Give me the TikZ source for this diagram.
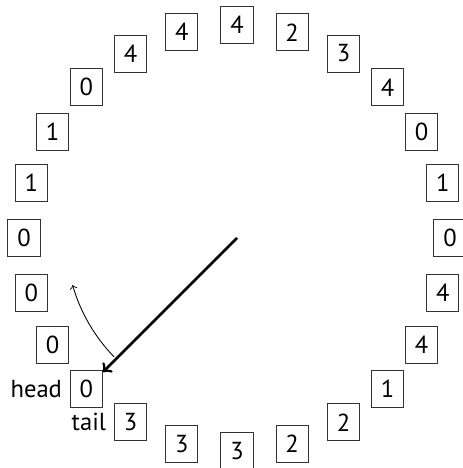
\documentclass[tikz,border=0pt]{standalone}
\usepackage{fontspec}
\setmainfont{PT Sans}
\begin{document}
\begin{tikzpicture}[x=0.4675pt,y=0.4675pt,
  cell/.style={draw=black!80, line width=0.45pt, inner sep=0pt,
    minimum width=15pt, minimum height=17.3pt, font=\fontsize{11.5}{13}\selectfont},
  tag/.style={inner sep=3.5pt, font=\fontsize{11.5}{13}\selectfont}]
  \useasboundingbox (-237,-230) rectangle (225,238);
  \coordinate (o) at (0,0);
  % ring of 24 cells, clockwise from the top
  \foreach \v [count=\i from 0] in {4,2,3,4,0,1,0,4,4,1,2,2,3,3,3,0,0,0,0,1,1,0,4,4}
    \node[cell] (c\i) at ({90-15*\i}:213) {\v};
  \node[tag, anchor=base east] (headtxt) at (c15.base west) {head};
  \node[tag, anchor=base east] (tailtxt) at (c14.base west) {tail};
  % pointer to the head cell
  \draw[line width=1.3pt,->] (o) -- (c15);
  % direction of rotation
  \coordinate (rotstart) at (-136:171);
  \draw[->] (rotstart) arc[start angle=-136, end angle=-164, radius=171];
\end{tikzpicture}
\end{document}
